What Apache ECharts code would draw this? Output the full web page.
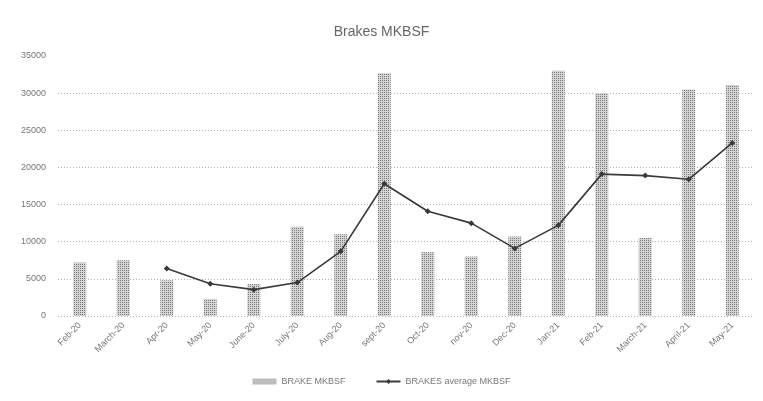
<!DOCTYPE html>
<html>
<head>
<meta charset="utf-8">
<script src="https://cdn.jsdelivr.net/npm/echarts@6/dist/echarts.min.js"></script>
<style>
html,body{margin:0;padding:0;background:#fff;}
#main{width:763px;height:401px;}
</style>
</head>
<body>
<div id="main"></div>
<script>
// data
var months = ['Feb-20','March-20','Apr-20','May-20','June-20','July-20','Aug-20','sept-20',
              'Oct-20','nov-20','Dec-20','Jan-21','Feb-21','March-21','April-21','May-21'];
var brakes = [7200, 7500, 4800, 2300, 4300, 12000, 11000, 32700,
              8600, 8000, 10700, 33000, 30000, 10500, 30500, 31100];
var brakesAvg = [null, null, 6400, 4350, 3550, 4500, 8700, 17800,
                 14100, 12500, 9100, 12200, 19100, 18900, 18400, 23300];
var yTicks = [0, 5000, 10000, 15000, 20000, 25000, 30000, 35000];

// dotted fill like the printed bars
var pat = document.createElement('canvas');
pat.width = 2; pat.height = 2;
var pc = pat.getContext('2d');
pc.fillStyle = '#d4d4d4'; pc.fillRect(0, 0, 2, 2);
pc.fillStyle = '#7a7a7a'; pc.fillRect(0, 0, 1, 1);

var myChart = echarts.init(document.getElementById('main'));

var gridColors = ['#b0b0b0','#b0b0b0','#b0b0b0','#b0b0b0','#b0b0b0','#b0b0b0','#b0b0b0','rgba(0,0,0,0)'];

var option = {
  backgroundColor: '#fff',
  animation: false,
  title: {
    text: 'Brakes MKBSF',
    left: 'center',
    top: 20,
    textStyle: { fontFamily: 'Liberation Sans', fontSize: 14, fontWeight: 'normal', color: '#666' }
  },
  legend: {
    bottom: 10,
    left: 'center',
    itemGap: 30,
    itemWidth: 24,
    itemHeight: 6,
    textStyle: { fontFamily: 'Liberation Sans', fontSize: 9, color: '#777' },
    data: [
      { name: 'BRAKE MKBSF', icon: 'rect' },
      { name: 'BRAKES average MKBSF' }
    ]
  },
  grid: { left: 58, right: 9, top: 56, bottom: 85 },
  xAxis: {
    type: 'category',
    data: months,
    axisLine: { show: false },
    axisTick: { show: false },
    axisLabel: {
      rotate: 45,
      interval: 0,
      margin: 8,
      fontFamily: 'Liberation Sans',
      fontSize: 9,
      color: '#777'
    }
  },
  yAxis: {
    type: 'value',
    min: yTicks[0],
    max: yTicks[yTicks.length - 1],
    interval: 5000,
    axisLine: { show: false },
    axisTick: { show: false },
    axisLabel: {
      margin: 12, fontFamily: 'Liberation Sans', fontSize: 9, color: '#777',
      formatter: function (v) { return String(v); }
    },
    splitLine: { lineStyle: { type: [1, 2], color: gridColors, width: 1 } }
  },
  series: [
    {
      name: 'BRAKE MKBSF',
      type: 'bar',
      barWidth: 13,
      itemStyle: { color: { image: pat, repeat: 'repeat' } },
      data: brakes
    },
    {
      name: 'BRAKES average MKBSF',
      type: 'line',
      symbol: 'diamond',
      symbolSize: 6,
      connectNulls: false,
      itemStyle: { color: '#3a3a3a' },
      lineStyle: { color: '#3a3a3a', width: 1.6 },
      data: brakesAvg
    }
  ]
};

myChart.setOption(option);
</script>
</body>
</html>
